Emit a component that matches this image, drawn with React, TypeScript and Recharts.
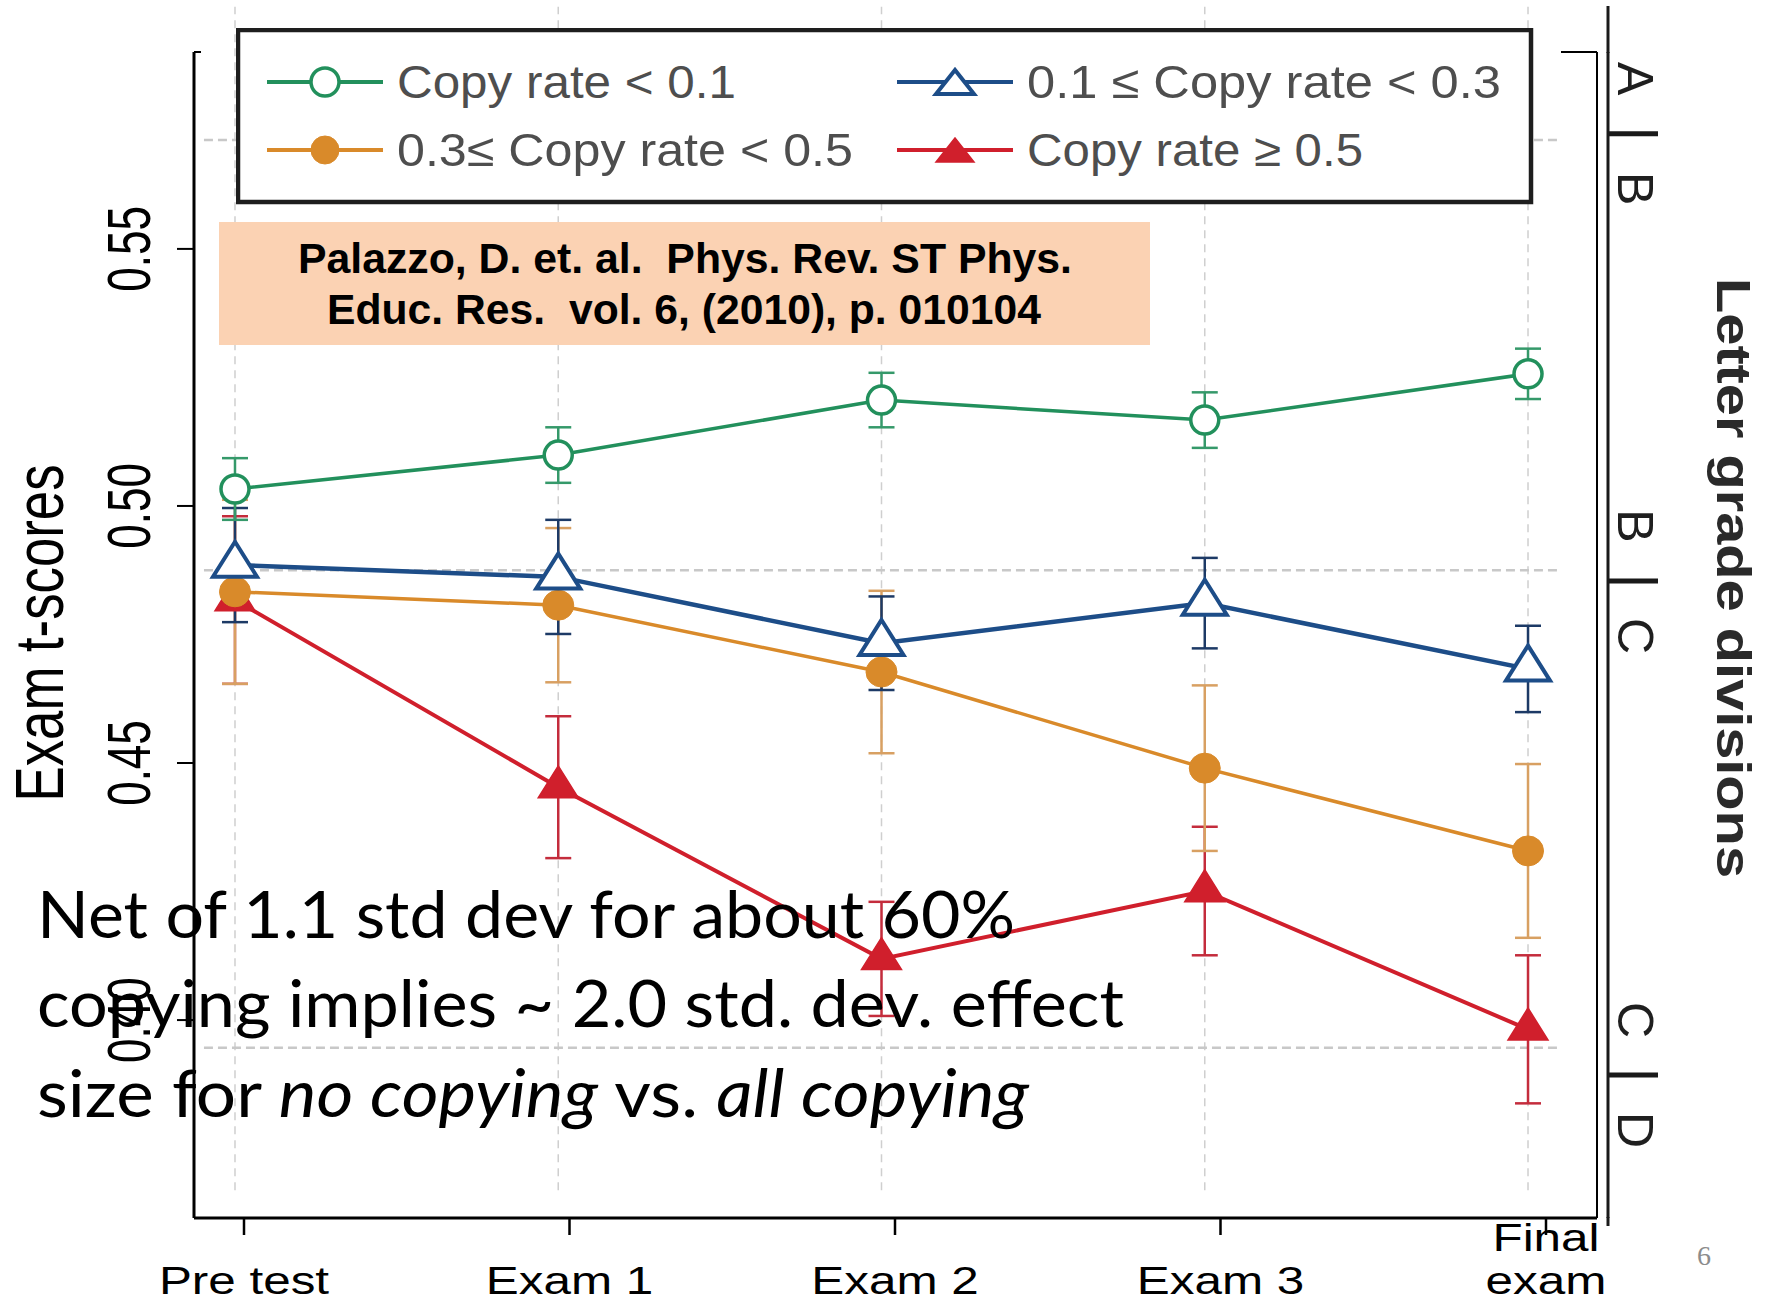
import React from 'react';
import { LineChart, Line, XAxis, YAxis, ReferenceLine, ErrorBar, Legend } from 'recharts';

const W = 1777;
const H = 1303;
const SANS = '"Liberation Sans", Arial, Helvetica, sans-serif';
const SLIDE = 'Lato, "Open Sans", "Noto Sans", sans-serif';

// ---- data -------------------------------------------------------------
const categories = ['Pre test', 'Exam 1', 'Exam 2', 'Exam 3', 'Final exam'];
const categoryLines = [['Pre test'], ['Exam 1'], ['Exam 2'], ['Exam 3'], ['Final', 'exam']];

// mean exam t-score per copy-rate group, with error-bar half widths
const lowCopy = [0.5033, 0.5099, 0.5206, 0.5167, 0.5257];
const lowCopyErr = [0.006, 0.0054, 0.0053, 0.0054, 0.0049];
const midCopy = [0.4885, 0.4862, 0.4733, 0.4811, 0.4683];
const midCopyErr = [0.0111, 0.0111, 0.0091, 0.0088, 0.0084];
const highCopy = [0.4833, 0.4807, 0.4677, 0.449, 0.4329];
const highCopyErr = [0.0179, 0.015, 0.0158, 0.0161, 0.0169];
const heavyCopy = [0.4817, 0.4453, 0.4119, 0.4251, 0.3982];
const heavyCopyErr = [0.0163, 0.0138, 0.0111, 0.0125, 0.0144];

const yTicks = [0.4, 0.45, 0.5, 0.55];

// letter-grade divisions: dotted lines inside the plot and marks on the right axis
const gradeLineValues = [0.5712, 0.4875, 0.3946];
const gradeBoundaryValues = [0.5724, 0.4854, 0.3893];
const gradeAbove = ['A', 'B', 'C'];
const gradeBelow = ['B', 'C', 'D'];

const rows = categories.map((cat, i) => ({
  cat,
  idx: i,
  low: lowCopy[i],
  lowErr: lowCopyErr[i],
  mid: midCopy[i],
  midErr: midCopyErr[i],
  high: highCopy[i],
  highErr: highCopyErr[i],
  heavy: heavyCopy[i],
  heavyErr: heavyCopyErr[i],
}));

// ---- axis configuration ----------------------------------------------
const Y_DOMAIN: [number, number] = [0.3615, 0.5883];
const X_DOMAIN: [number, number] = [-0.1268, 4.2134];
const GRADE_LINE_X: [number, number] = [-0.096, 4.102];
const CATEGORY_LINE_Y: [number, number] = [0.3669, 0.5971];

type MarkerKind = 'circle-open' | 'circle-filled' | 'triangle-open' | 'triangle-filled';

const series: {
  key: string;
  name: string;
  color: string;
  errColor: string;
  width: number;
  marker: MarkerKind;
  mw: number;
  mh: number;
}[] = [
  { key: 'low', name: 'Copy rate < 0.1', color: '#22905c', errColor: '#35996a', width: 3.5, marker: 'circle-open', mw: 28, mh: 28 },
  { key: 'mid', name: '0.1 \u2264 Copy rate < 0.3', color: '#1d4d88', errColor: '#1d3a66', width: 4.5, marker: 'triangle-open', mw: 44, mh: 35 },
  { key: 'high', name: '0.3\u2264 Copy rate < 0.5', color: '#d98a2a', errColor: '#d8a062', width: 3.5, marker: 'circle-filled', mw: 31, mh: 30 },
  { key: 'heavy', name: 'Copy rate \u2265 0.5', color: '#d01f2c', errColor: '#c42c3c', width: 4, marker: 'triangle-filled', mw: 40, mh: 32 },
];

// drawing order: red first, green last
const drawOrder = ['heavy', 'high', 'mid', 'low'];

function Marker({ kind, cx, cy, color, w, h }: { kind: MarkerKind; cx: number; cy: number; color: string; w: number; h: number }) {
  if (kind === 'circle-open') {
    return <ellipse cx={cx} cy={cy} rx={w / 2} ry={h / 2} fill="#fff" stroke={color} strokeWidth={3.5} />;
  }
  if (kind === 'circle-filled') {
    return <ellipse cx={cx} cy={cy} rx={w / 2} ry={h / 2} fill={color} stroke={color} strokeWidth={1} />;
  }
  const pts = `${cx},${cy - (2 * h) / 3} ${cx - w / 2},${cy + h / 3} ${cx + w / 2},${cy + h / 3}`;
  if (kind === 'triangle-open') {
    return <polygon points={pts} fill="#fff" stroke={color} strokeWidth={4} strokeLinejoin="miter" />;
  }
  return <polygon points={pts} fill={color} stroke={color} strokeWidth={1.5} strokeLinejoin="miter" />;
}

// ---- ticks and labels ------------------------------------------------
const ScoreTick = (props: any) => {
  const { x, y, payload } = props;
  return (
    <text
      transform={`translate(${x},${y}) rotate(-90) scale(1,1.4)`}
      textAnchor="middle"
      fontFamily={SANS}
      fontSize={44}
      fill="#000"
    >
      {Number(payload.value).toFixed(2)}
    </text>
  );
};

const CategoryTick = (props: any) => {
  const { x, y, payload } = props;
  const i = categories.indexOf(payload.value);
  const lines = i >= 0 ? categoryLines[i] : [String(payload.value)];
  const base = y + 59;
  return (
    <g>
      {lines.map((t, k) => (
        <text
          key={k}
          transform={`translate(${x},${base - (lines.length - 1 - k) * 43}) scale(1.3,1)`}
          textAnchor="middle"
          fontFamily={SANS}
          fontSize={38}
          fill="#000"
        >
          {t}
        </text>
      ))}
    </g>
  );
};

const GradeTick = (props: any) => {
  const { x, y, payload } = props;
  const i = gradeBoundaryValues.indexOf(payload.value);
  if (i < 0) return <g />;
  const lx = x + 28;
  return (
    <g>
      <line x1={x} y1={y} x2={x + 50} y2={y} stroke="#1a1a1a" strokeWidth={5} />
      {[
        { t: gradeAbove[i], dy: -55 },
        { t: gradeBelow[i], dy: 55 },
      ].map((g, k) => (
        <text
          key={k}
          transform={`translate(${lx},${y + g.dy}) rotate(90)`}
          textAnchor="middle"
          dy="0.36em"
          fontFamily={SANS}
          fontSize={50}
          fill="#1f1f1f"
        >
          {g.t}
        </text>
      ))}
    </g>
  );
};

const ScoreAxisLabel = (props: any) => {
  const vb = props.viewBox || { x: 0, y: 52, width: 194, height: 1166 };
  const cy = vb.y + vb.height / 2 - 2;
  return (
    <text
      transform={`translate(${vb.x + 63},${cy}) rotate(-90) scale(1,1.3)`}
      textAnchor="middle"
      fontFamily={SANS}
      fontSize={53}
      fill="#000"
      textLength={337}
      lengthAdjust="spacingAndGlyphs"
    >
      Exam t-scores
    </text>
  );
};

const GradeAxisLabel = (props: any) => {
  const vb = props.viewBox || { x: 1608, y: 52, width: 169, height: 1166 };
  const cy = vb.y + vb.height / 2 - 57;
  return (
    <text
      transform={`translate(${vb.x + 126},${cy}) rotate(90)`}
      textAnchor="middle"
      dy="0.36em"
      fontFamily={SANS}
      fontWeight="bold"
      fontSize={48}
      fill="#2a2a2a"
      textLength={600}
      lengthAdjust="spacingAndGlyphs"
    >
      Letter grade divisions
    </text>
  );
};

// ---- legend -----------------------------------------------------------
const LEGEND_W = 1298;
const LEGEND_H = 178;
const legendCols = [31, 661];
const legendRows = [54, 122];
const legendTextLen: Record<string, number> = { low: 339, mid: 474, high: 456, heavy: 336 };
const legendOrder = ['low', 'mid', 'high', 'heavy'];

const LegendBox = (props: any) => {
  const payload: any[] = props.payload || [];
  const keys = legendOrder.filter((k) => payload.length === 0 || payload.some((p) => p.dataKey === k));
  return (
    <svg width={LEGEND_W} height={LEGEND_H} style={{ display: 'block' }}>
      <rect x={2} y={2} width={1293} height={172} fill="#fff" stroke="#1e1e1e" strokeWidth={4.5} />
      {keys.map((k) => {
        const s = series.find((d) => d.key === k)!;
        const slot = legendOrder.indexOf(k);
        const x0 = legendCols[slot % 2];
        const y0 = legendRows[Math.floor(slot / 2)];
        const tri = s.marker.startsWith('triangle');
        return (
          <g key={k}>
            <line x1={x0} y1={y0} x2={x0 + 116} y2={y0} stroke={s.color} strokeWidth={4} />
            <Marker
              kind={s.marker}
              cx={x0 + 58}
              cy={tri ? y0 + 4 : y0}
              color={s.color}
              w={tri ? 38 : 28}
              h={tri ? 24 : 28}
            />
            <text
              x={x0 + 130}
              y={y0 + 16}
              fontFamily={SANS}
              fontSize={46}
              fill="#4e4e4e"
              textLength={legendTextLen[k]}
              lengthAdjust="spacingAndGlyphs"
            >
              {s.name}
            </text>
          </g>
        );
      })}
    </svg>
  );
};

// ---- slide overlay ------------------------------------------------------
const Overlay = () => (
  <svg
    width={W}
    height={H}
    style={{ position: 'absolute', left: 0, top: 0, pointerEvents: 'none' }}
  >
    {/* remaining pieces of the outer frame */}
    <line x1={194} y1={52} x2={201} y2={52} stroke="#000" strokeWidth={2} />
    <line x1={1561} y1={52} x2={1597} y2={52} stroke="#000" strokeWidth={2} />
    <line x1={1608} y1={6} x2={1608} y2={53} stroke="#1a1a1a" strokeWidth={3} />
    <line x1={1608} y1={1217} x2={1608} y2={1226} stroke="#1a1a1a" strokeWidth={3} />

    {/* citation */}
    <rect x={219} y={222} width={931} height={123} fill="#fbd2b3" />
    <text
      x={685}
      y={273}
      textAnchor="middle"
      fontFamily={SANS}
      fontWeight="bold"
      fontSize={42}
      fill="#000"
      textLength={774}
      lengthAdjust="spacingAndGlyphs"
      style={{ whiteSpace: 'pre' }}
    >
      {'Palazzo, D. et. al.  Phys. Rev. ST Phys.'}
    </text>
    <text
      x={684}
      y={324}
      textAnchor="middle"
      fontFamily={SANS}
      fontWeight="bold"
      fontSize={42}
      fill="#000"
      textLength={714}
      lengthAdjust="spacingAndGlyphs"
      style={{ whiteSpace: 'pre' }}
    >
      {'Educ. Res.  vol. 6, (2010), p. 010104'}
    </text>

    {/* note */}
    <text x={37} y={938} fontFamily={SLIDE} fontSize={66} fill="#000" textLength={978} lengthAdjust="spacingAndGlyphs">
      Net of 1.1 std dev for about 60%
    </text>
    <text x={37} y={1027} fontFamily={SLIDE} fontSize={66} fill="#000" textLength={1087} lengthAdjust="spacingAndGlyphs">
      copying implies ~ 2.0 std. dev. effect
    </text>
    <text
      x={37}
      y={1117}
      fontFamily={SLIDE}
      fontSize={66}
      fill="#000"
      textLength={992}
      lengthAdjust="spacingAndGlyphs"
      style={{ whiteSpace: 'pre' }}
    >
      <tspan>{'size for '}</tspan>
      <tspan fontStyle="italic">no copying</tspan>
      <tspan>{' vs. '}</tspan>
      <tspan fontStyle="italic">all copying</tspan>
    </text>

    {/* slide number */}
    <text x={1704} y={1265} textAnchor="middle" fontFamily='"Liberation Serif", "DejaVu Serif", serif' fontSize={28} fill="#8c8c8c">
      6
    </text>
  </svg>
);

export default function App() {
  return (
    <div style={{ position: 'absolute', left: 0, top: 0, width: W, height: H, background: '#fff', overflow: 'hidden' }}>
      <LineChart width={W} height={H} data={rows} margin={{ top: 52, right: 0, bottom: 0, left: 0 }}>
        <XAxis xAxisId="pos" dataKey="idx" type="number" domain={X_DOMAIN} allowDataOverflow hide />
        <XAxis
          xAxisId="cat"
          dataKey="cat"
          type="category"
          height={85}
          padding={{ left: 50, right: 51 }}
          interval={0}
          tickSize={17}
          tickMargin={0}
          tickLine={{ stroke: '#000', strokeWidth: 2.5 }}
          axisLine={{ stroke: '#000', strokeWidth: 3 }}
          tick={<CategoryTick />}
        />
        <YAxis
          yAxisId="t"
          width={194}
          domain={Y_DOMAIN}
          allowDataOverflow
          ticks={yTicks}
          interval={0}
          tickSize={17}
          tickMargin={27}
          tickLine={{ stroke: '#000', strokeWidth: 2 }}
          axisLine={{ stroke: '#000', strokeWidth: 3 }}
          tick={<ScoreTick />}
          label={<ScoreAxisLabel />}
        />
        <YAxis
          yAxisId="frame"
          orientation="right"
          width={11}
          domain={Y_DOMAIN}
          allowDataOverflow
          tick={false}
          tickLine={false}
          axisLine={{ stroke: '#000', strokeWidth: 2 }}
        />
        <YAxis
          yAxisId="grade"
          orientation="right"
          width={169}
          domain={Y_DOMAIN}
          allowDataOverflow
          ticks={gradeBoundaryValues}
          interval={0}
          tickSize={0}
          tickMargin={0}
          tickLine={false}
          axisLine={{ stroke: '#1a1a1a', strokeWidth: 3 }}
          tick={<GradeTick />}
          label={<GradeAxisLabel />}
        />

        {categories.map((c, i) => (
          <ReferenceLine
            key={`v-${c}`}
            xAxisId="pos"
            yAxisId="t"
            segment={[
              { x: i, y: CATEGORY_LINE_Y[0] },
              { x: i, y: CATEGORY_LINE_Y[1] },
            ]}
            ifOverflow="visible"
            stroke="#cfcfcf"
            strokeWidth={1.5}
            strokeDasharray="8 6"
          />
        ))}
        {gradeLineValues.map((v) => (
          <ReferenceLine
            key={`h-${v}`}
            xAxisId="pos"
            yAxisId="t"
            segment={[
              { x: GRADE_LINE_X[0], y: v },
              { x: GRADE_LINE_X[1], y: v },
            ]}
            ifOverflow="visible"
            stroke="#c8c8c8"
            strokeWidth={2.5}
            strokeDasharray="9 5"
          />
        ))}

        {drawOrder.map((k) => {
          const s = series.find((d) => d.key === k)!;
          return (
            <Line
              key={k}
              xAxisId="pos"
              yAxisId="t"
              type="linear"
              dataKey={k}
              name={s.name}
              stroke={s.color}
              strokeWidth={s.width}
              isAnimationActive={false}
              dot={(p: any) => (
                <Marker key={`${k}-${p.index}`} kind={s.marker} cx={p.cx} cy={p.cy} color={s.color} w={s.mw} h={s.mh} />
              )}
              activeDot={false}
            >
              <ErrorBar dataKey={`${k}Err`} width={13} strokeWidth={2.5} stroke={s.errColor} direction="y" />
            </Line>
          );
        })}

        <Legend
          layout="vertical"
          align="center"
          verticalAlign="middle"
          wrapperStyle={{ position: 'absolute', left: 236, top: 28, width: LEGEND_W, height: LEGEND_H }}
          content={<LegendBox />}
        />
      </LineChart>
      <Overlay />
    </div>
  );
}
